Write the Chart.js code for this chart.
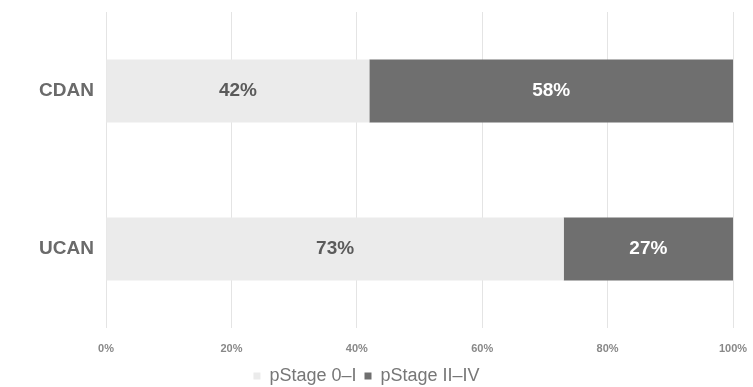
<!DOCTYPE html>
<html>
<head>
<meta charset="utf-8">
<script src="https://cdn.jsdelivr.net/npm/chart.js@4/dist/chart.umd.min.js"></script>
<style>
  html, body { margin: 0; padding: 0; background: #fff; }
  #wrap { width: 753px; height: 387px; }
</style>
</head>
<body>
<div id="wrap"><canvas id="chartStage"></canvas></div>
<script>
// pStage share per group
const grupos = ['CDAN', 'UCAN']
const etapaTemprana = [42, 73]
const etapaAvanzada = [58, 27]
const ticksX = [0, 20, 40, 60, 80, 100]

Chart.defaults.font.family = '"Liberation Sans", Arial, sans-serif'
Chart.defaults.color = '#707070'

// value labels in the middle of each bar
const etiquetas = {
  id: 'etiquetas',
  afterDatasetsDraw(chart) {
    const ctx = chart.ctx
    ctx.save()
    ctx.font = 'bold 19px "Liberation Sans", Arial, sans-serif'
    ctx.textAlign = 'center'
    ctx.textBaseline = 'middle'
    chart.data.datasets.forEach((ds, i) => {
      chart.getDatasetMeta(i).data.forEach((bar, j) => {
        const p = bar.getProps(['x', 'y', 'base'], true)
        ctx.fillStyle = i === 0 ? '#5a5a5a' : '#ffffff'
        ctx.fillText(ds.data[j] + '%', (p.x + p.base) / 2, p.y)
      })
    })
    ctx.restore()
  }
}

const graphic = document.getElementById('chartStage')
new Chart(graphic, {
  type: 'bar',
  data: {
    labels: grupos,
    datasets: [{
      label: 'pStage 0–I',
      data: etapaTemprana,
      backgroundColor: '#ebebeb',
      barPercentage: 0.4,
      categoryPercentage: 1
    }, {
      label: 'pStage II–IV',
      data: etapaAvanzada,
      backgroundColor: '#6f6f6f',
      barPercentage: 0.4,
      categoryPercentage: 1
    }]
  },
  options: {
    indexAxis: 'y',
    responsive: true,
    maintainAspectRatio: false,
    animation: false,
    layout: { padding: { top: 12, right: 20, left: 0, bottom: -8 } },
    scales: {
      x: {
        stacked: true,
        min: 0,
        max: 100,
        afterBuildTicks(scale) { scale.ticks = ticksX.map(v => ({ value: v })) },
        afterFit(scale) {
          scale.height = 31
          scale.paddingLeft = 0
          scale.paddingRight = 0
        },
        ticks: {
          callback: v => v + '%',
          font: { size: 11, weight: 'bold' },
          color: '#888',
          padding: 14
        },
        grid: { color: '#e4e4e4', drawTicks: false },
        border: { display: false }
      },
      y: {
        stacked: true,
        afterFit(scale) {
          scale.width = 106
          scale.paddingTop = 0
          scale.paddingBottom = 0
        },
        ticks: {
          font: { size: 19, weight: 'bold' },
          color: '#6a6a6a',
          padding: 12
        },
        grid: { display: false, drawTicks: false },
        border: { display: false }
      }
    },
    plugins: {
      legend: {
        position: 'bottom',
        labels: {
          boxWidth: 7,
          boxHeight: 7,
          padding: 8,
          font: { size: 18 },
          color: '#777'
        }
      },
      tooltip: { enabled: false }
    }
  },
  plugins: [etiquetas]
})
</script>
</body>
</html>
